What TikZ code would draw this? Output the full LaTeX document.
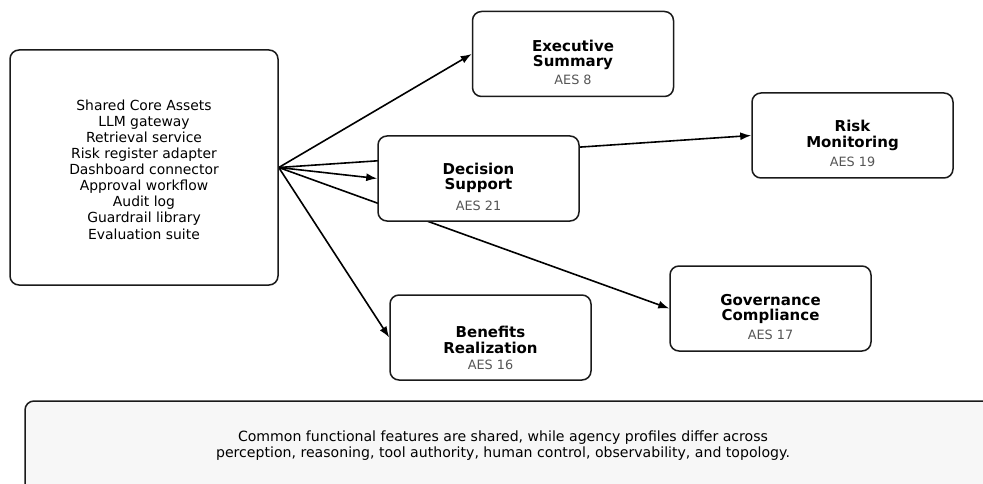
\documentclass[tikz,border=0pt]{standalone}
\usepackage{fontspec}
\setmainfont{DejaVu Sans}
\usetikzlibrary{positioning, arrows.meta, backgrounds}
\definecolor{negro}{HTML}{1A1A1A}
\definecolor{gris}{HTML}{555555}
\definecolor{fondonota}{HTML}{F7F7F7}

\begin{document}
\begin{tikzpicture}[x=1pt, y=-1pt,
				caja/.style={draw=negro, line width=1.5pt, rounded corners=9pt, fill=white, minimum width=201pt, minimum height=85pt},
				titulo/.style={font=\fontsize{15}{15.5}\selectfont\bfseries, align=center, text=black},
				aes/.style={font=\fontsize{12.8}{14}\selectfont, text=gris},
				flecha/.style={-{Latex[length=11pt, width=8pt]}, line width=1.6pt, draw=black}]
				\useasboundingbox (0,0) rectangle (983,484);
				% fuente comun
				\node[caja, minimum width=268pt, minimum height=235pt] (core) at (144,167.5) {};
				\node[align=center, font=\fontsize{13.9}{16.1}\selectfont] (coret) at (144,169.5)
					{Shared Core Assets\\LLM gateway\\Retrieval service\\Risk register adapter\\Dashboard connector\\Approval workflow\\Audit log\\Guardrail library\\Evaluation suite};
				% perfiles
				\node[caja] (exec) at (573,54)    {};
				\node[caja] (ds)   at (478.5,178.5) {};
				\node[caja] (risk) at (852.5,135.5) {};
				\node[caja] (gov)  at (770.5,308.5) {};
				\node[caja] (ben)  at (490.5,337.5) {};
				\node[titulo] (exect) at (573,55)      {Executive\\Summary};
				\node[aes]    (execa) at (573,80)      {AES 8};
				\node[titulo] (dst)   at (478.5,178)   {Decision\\Support};
				\node[aes]    (dsa)   at (478.5,206)   {AES 21};
				\node[titulo] (riskt) at (852.5,135.5) {Risk\\Monitoring};
				\node[aes]    (riska) at (852.5,161.5) {AES 19};
				\node[titulo] (govt)  at (770.5,309)   {Governance\\Compliance};
				\node[aes]    (gova)  at (770.5,335)   {AES 17};
				\node[titulo] (bent)  at (490.5,340)   {Benefits\\Realization};
				\node[aes]    (bena)  at (490.5,364.5) {AES 16};
				\begin{scope}[on background layer]
					\draw[flecha] (core.east) -- (exec.west);
					\draw[flecha] (core.east) -- (ds.west);
					\draw[flecha] (core.east) -- (risk.west);
					\draw[flecha] (core.east) -- (gov.west);
					\draw[flecha] (core.east) -- (ben.west);
				\end{scope}
				% nota
				\begin{scope}
					\clip (0,0) rectangle (983,484);
					\draw[negro, line width=1.5pt, fill=fondonota, rounded corners=9pt] (25,401) rectangle (1010,510);
				\end{scope}
				\node[align=center, font=\fontsize{14.1}{16}\selectfont] (nota) at (503,446)
					{Common functional features are shared, while agency profiles differ across\\perception, reasoning, tool authority, human control, observability, and topology.};
			\end{tikzpicture}
\end{document}
